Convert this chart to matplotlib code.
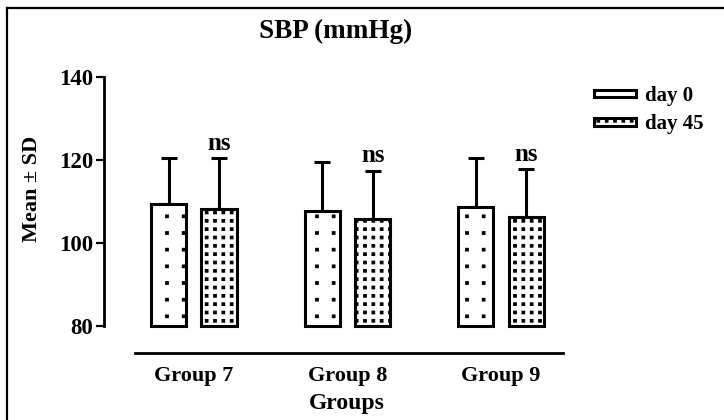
import numpy as np
import matplotlib.pyplot as plt
from matplotlib import hatch
from matplotlib.path import Path
from matplotlib.lines import Line2D

plt.rcParams['font.family'] = ['Liberation Serif', 'DejaVu Serif']
plt.rcParams['font.weight'] = 'bold'
plt.rcParams['hatch.linewidth'] = 0.8


class GridDots(hatch.HatchPatternBase):
    """Square dots on a plain grid ('.' = 6 per inch, '..' = 12 per inch)."""

    phase = {1: (0.02, 0.02), 2: (0.8, 0.5)}

    def __init__(self, hatch_str, density):
        self.k = hatch_str.count('.')
        self.n = self.k * density
        # one extra ring of dots so the ones on the tile edge wrap cleanly
        self.num_vertices = (self.n + 2) ** 2 * 5 if self.n else 0

    def set_vertices_and_codes(self, vertices, codes):
        s = 0.013
        sq = np.array([[-s, -s], [s, -s], [s, s], [-s, s], [-s, -s]])
        px, py = self.phase.get(self.k, (0.5, 0.5))
        idx = np.arange(-1, self.n + 1)
        cx = (idx + px) / self.n
        cy = (idx + py) / self.n
        vertices[:] = np.concatenate([sq + [a, b] for b in cy for a in cx])
        codes[:] = np.tile([Path.MOVETO, Path.LINETO, Path.LINETO,
                            Path.LINETO, Path.CLOSEPOLY], (self.n + 2) ** 2)


hatch._hatch_types = [GridDots if t is hatch.SmallFilledCircles else t
                      for t in hatch._hatch_types]

groups = ['Group 7', 'Group 8', 'Group 9']
day0_mean = [109.4, 107.7, 108.7]
day0_sd = [11.1, 11.8, 11.8]
day45_mean = [108.2, 105.8, 106.3]
day45_sd = [12.3, 11.6, 11.5]
sig = ['ns', 'ns', 'ns']

W, H = 724, 420
fig = plt.figure(figsize=(W / 100, H / 100), dpi=100)

# axes box in pixels: left 104, right 563, top 77, bottom 353
ax = fig.add_axes([104 / W, (H - 353) / H, (563 - 104) / W, (353 - 77) / H])

x = np.arange(len(groups))
bw = 0.23
off = 0.164
base = 80

ax.bar(x - off, np.array(day0_mean) - base, bw, bottom=base, color='white',
       edgecolor='black', linewidth=2.2, hatch='.', label='day 0', zorder=2)
ax.bar(x + off, np.array(day45_mean) - base, bw, bottom=base, color='white',
       edgecolor='black', linewidth=2.2, hatch='..', label='day 45', zorder=2)

# upper half of the SD whiskers only
ax.errorbar(x - off, day0_mean, yerr=[np.zeros(3), day0_sd], fmt='none',
            ecolor='black', elinewidth=2.2, capsize=6, capthick=2.2, zorder=1)
ax.errorbar(x + off, day45_mean, yerr=[np.zeros(3), day45_sd], fmt='none',
            ecolor='black', elinewidth=2.2, capsize=6, capthick=2.2, zorder=1)

for xi, m, s, t in zip(x + off, day45_mean, day45_sd, sig):
    ax.text(xi, m + s + 0.8, t, ha='center', va='bottom', fontsize=18,
            fontweight='bold')

ax.set_xlim(-0.586, 2.404)
ax.set_ylim(73.5, 140)
ax.set_yticks([80, 100, 120, 140])
ax.tick_params(axis='y', length=6, width=1.6, labelsize=16.5, pad=2)
ax.tick_params(axis='x', length=0, labelsize=16, pad=9)
ax.set_xticks(x)
ax.set_xticklabels(groups)
for lab in ax.get_xticklabels() + ax.get_yticklabels():
    lab.set_fontweight('bold')

for side in ['top', 'right']:
    ax.spines[side].set_visible(False)
ax.spines['left'].set_bounds(80, 140)
ax.spines['left'].set_linewidth(2)
ax.spines['bottom'].set_bounds(-0.385, 2.404)
ax.spines['bottom'].set_linewidth(2)

fig.text(347 / W, 1 - 403 / H, 'Groups', ha='center', va='center',
         fontsize=17, fontweight='bold')
fig.text(32 / W, 1 - 189 / H, 'Mean ± SD', rotation=90, ha='center',
         va='center', fontsize=16, fontweight='bold')

fig.text(336 / W, 1 - 31 / H, 'SBP (mmHg)', ha='center', va='center',
         fontsize=19.5, fontweight='bold')

leg = fig.legend(loc='upper left', bbox_to_anchor=(594 / W, 1 - 86 / H),
                 frameon=False, fontsize=15, handlelength=2.0,
                 handleheight=0.2, handletextpad=0.45, labelspacing=0.4,
                 borderpad=0, borderaxespad=0)
for t in leg.get_texts():
    t.set_fontweight('bold')

# outer frame, left and top edges
fig.add_artist(Line2D([7 / W, 7 / W], [0, 1 - 8 / H], color='black',
                      linewidth=1.6, transform=fig.transFigure))
fig.add_artist(Line2D([7 / W, 1], [1 - 8 / H, 1 - 8 / H], color='black',
                      linewidth=1.6, transform=fig.transFigure))

fig.savefig('out.png', dpi=100)
